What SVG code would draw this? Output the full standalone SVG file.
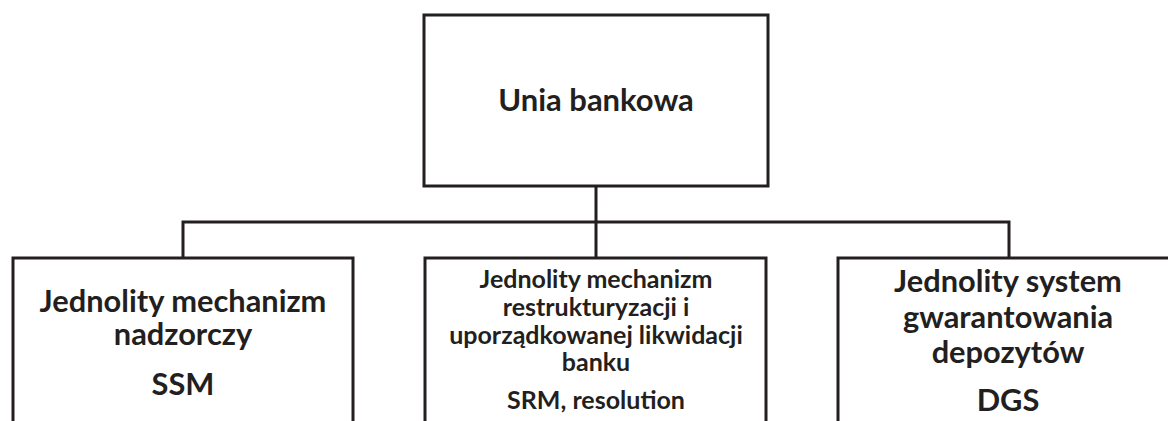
<svg xmlns="http://www.w3.org/2000/svg" width="1168" height="421" viewBox="0 0 1168 421">
<style>
.box{fill:#fff;stroke:#231f20;stroke-width:3}
.con{fill:none;stroke:#231f20;stroke-width:3}
text{font-family:Lato,"Open Sans","Liberation Sans",sans-serif;font-weight:bold;fill:#231f20;text-anchor:middle}
.t0{font-size:31px}
.t1{font-size:30.8px}
.t2{font-size:25px}
</style>
<rect width="1168" height="421" fill="#fff"/>
<g id="connectors">
<path class="con" d="M596 186V258M183 258V222H1009V258"/>
</g>
<g id="n0">
<rect class="box" x="424" y="15" width="344" height="171"/>
<text class="t0" x="596" y="111">Unia bankowa</text>
</g>
<g id="n1">
<rect class="box" x="13" y="258" width="340" height="200"/>
<text class="t1" x="183" y="312">Jednolity mechanizm</text>
<text class="t1" x="183" y="345">nadzorczy</text>
<text class="t1" x="183" y="395">SSM</text>
</g>
<g id="n2">
<rect class="box" x="425" y="258" width="341" height="200"/>
<text class="t2" x="596" y="288">Jednolity mechanizm</text>
<text class="t2" x="596" y="316">restrukturyzacji i</text>
<text class="t2" x="596" y="344">uporządkowanej likwidacji</text>
<text class="t2" x="596" y="371">banku</text>
<text class="t2" x="596" y="409">SRM, resolution</text>
</g>
<g id="n3">
<rect class="box" x="838" y="258" width="340" height="200"/>
<text class="t1" x="1008" y="292">Jednolity system</text>
<text class="t1" x="1008" y="328">gwarantowania</text>
<text class="t1" x="1008" y="363">depozytów</text>
<text class="t1" x="1008" y="411">DGS</text>
</g>
</svg>
